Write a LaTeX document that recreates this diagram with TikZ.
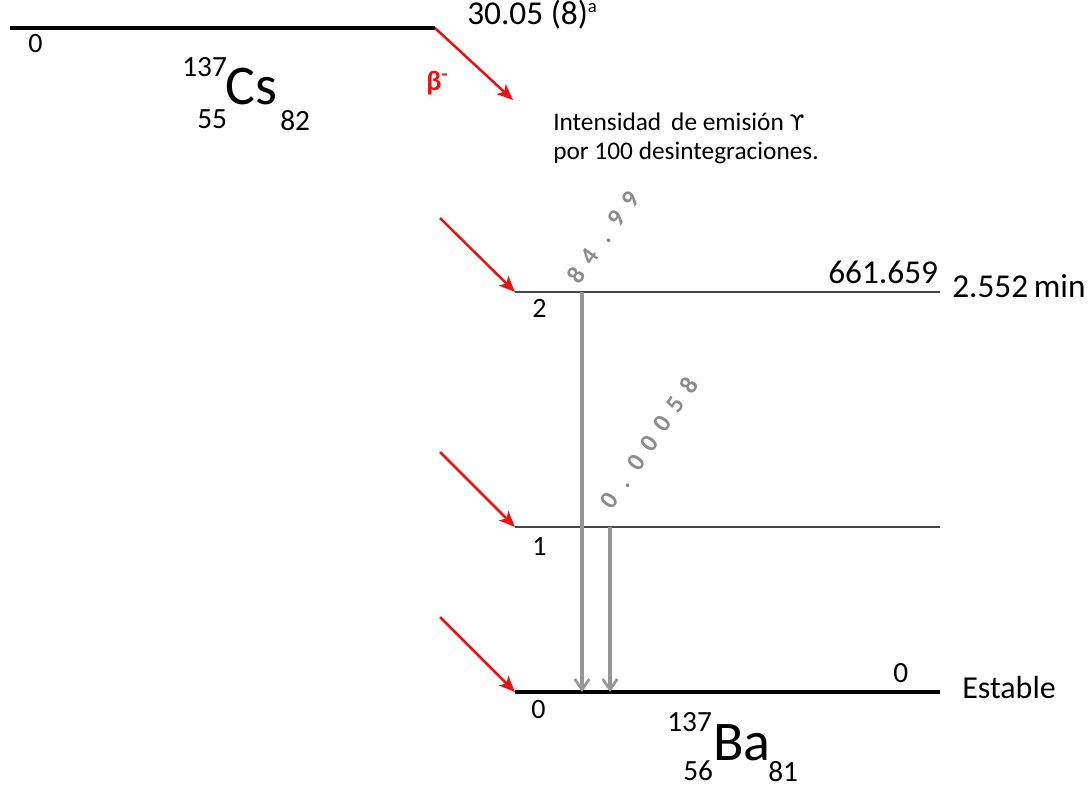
\documentclass[tikz,border=0pt]{standalone}
\usepackage{fontspec}
\setmainfont{Carlito}
\newfontfamily\dejavu{DejaVu Sans}
\usetikzlibrary{arrows.meta}
\definecolor{betared}{RGB}{230,20,20}
\definecolor{gam}{RGB}{150,150,150}
\definecolor{gamtxt}{RGB}{140,140,140}
\definecolor{lvl}{RGB}{70,70,70}
\newcommand\gch[1]{\makebox[0.92em][c]{#1}}
\begin{document}
\begin{tikzpicture}[x=0.75pt,y=-0.75pt,
  lab/.style={inner sep=0pt,anchor=base west,font=\fontsize{21}{22}\selectfont},
  biglab/.style={inner sep=0pt,anchor=base west,font=\fontsize{25}{27}\selectfont},
  idx/.style={inner sep=0pt,anchor=base west,font=\fontsize{22}{24}\selectfont},
  nuc/.style={inner sep=0pt,anchor=base west,font=\fontsize{42}{44}\selectfont},
  betaarrow/.style={betared,line width=1.9pt,-{Stealth[length=12pt,width=10pt,inset=3pt]}},
  gamarrow/.style={gam,line width=2.5pt,-{Straight Barb[length=8pt,width=11pt,line width=2pt]}},
  thinlevel/.style={lvl,line width=1.1pt},
  thicklevel/.style={black,line width=2.4pt},
  gamlab/.style={inner sep=0pt,text=gamtxt,font=\fontsize{19}{20}\selectfont\bfseries}]
\useasboundingbox (0,0) rectangle (1091,788);
% parent level
\coordinate (p0) at (10,28);
\coordinate (p1) at (435,28);
\draw[thicklevel] (p0) -- (p1);
\node[lab] (p0lab) at (28,53) {0};
\node[biglab] (phl) at (467,25) {30.05 (8)\textsuperscript{\fontsize{14}{14}\selectfont a}};
\node[nuc] (cs) at (225,105) {Cs};
\node[idx] (csA) at (182,77) {137};
\node[idx] (csZ) at (197,128) {55};
\node[idx] (csN) at (280,131) {82};
% beta
\coordinate (b0) at (513,100);
\draw[betaarrow] (p1) -- (b0);
\node[inner sep=0pt,anchor=base west,text=betared,font=\fontsize{21}{22}\selectfont\bfseries] (beta) at (426,91) {β\textsuperscript{-}};
% note
\node[inner sep=0pt,anchor=base west,font=\fontsize{19}{22}\selectfont] (note1) at (553,131) {Intensidad\, de emisión {\dejavu\fontsize{16}{16}\selectfont ϒ}};
\node[inner sep=0pt,anchor=base west,font=\fontsize{19}{22}\selectfont] (note2) at (553,160) {por 100 desintegraciones.};
% daughter levels
\coordinate (l2a) at (515,292); \coordinate (l2b) at (940,292);
\coordinate (l1a) at (515,527); \coordinate (l1b) at (940,527);
\coordinate (l0a) at (515,692); \coordinate (l0b) at (940,692);
\draw[thinlevel] (l2a) -- (l2b);
\draw[thinlevel] (l1a) -- (l1b);
\draw[thicklevel] (l0a) -- (l0b);
\node[lab] (n2) at (532,317) {2};
\node[lab] (n1) at (532,555) {1};
\node[lab] (n0) at (531,718) {0};
\node[biglab] (e2) at (828,283) {661.659};
\node[biglab] (t2) at (952,297) {2.552\,min};
\node[lab,font=\fontsize{22}{24}\selectfont] (e0) at (893,682) {0};
\node[lab,font=\fontsize{24}{26}\selectfont] (st) at (962,698) {Estable};
\node[nuc] (ba) at (713,760) {Ba};
\node[idx] (baA) at (667,731) {137};
\node[idx] (baZ) at (683,780) {56};
\node[idx] (baN) at (768,781) {81};
% feeding beta arrows
\coordinate (f2) at (440,218);
\coordinate (f1) at (440,452);
\coordinate (f0) at (440,617);
\draw[betaarrow] (f2) -- (l2a);
\draw[betaarrow] (f1) -- (l1a);
\draw[betaarrow] (f0) -- (l0a);
% gammas
\coordinate (g1s) at (582,292); \coordinate (g1e) at (582,692);
\coordinate (g2s) at (610,527); \coordinate (g2e) at (610,692);
\draw[gamarrow] (g1s) -- (g1e);
\draw[gamarrow] (g2s) -- (g2e);
\node[gamlab,rotate=54.5] (gl1) at (603,237) {\gch8\gch4\gch.\gch9\gch9};
\node[gamlab,rotate=55.5] (gl2) at (649,443) {\gch0\gch.\gch0\gch0\gch0\gch5\gch8};
\end{tikzpicture}
\end{document}
